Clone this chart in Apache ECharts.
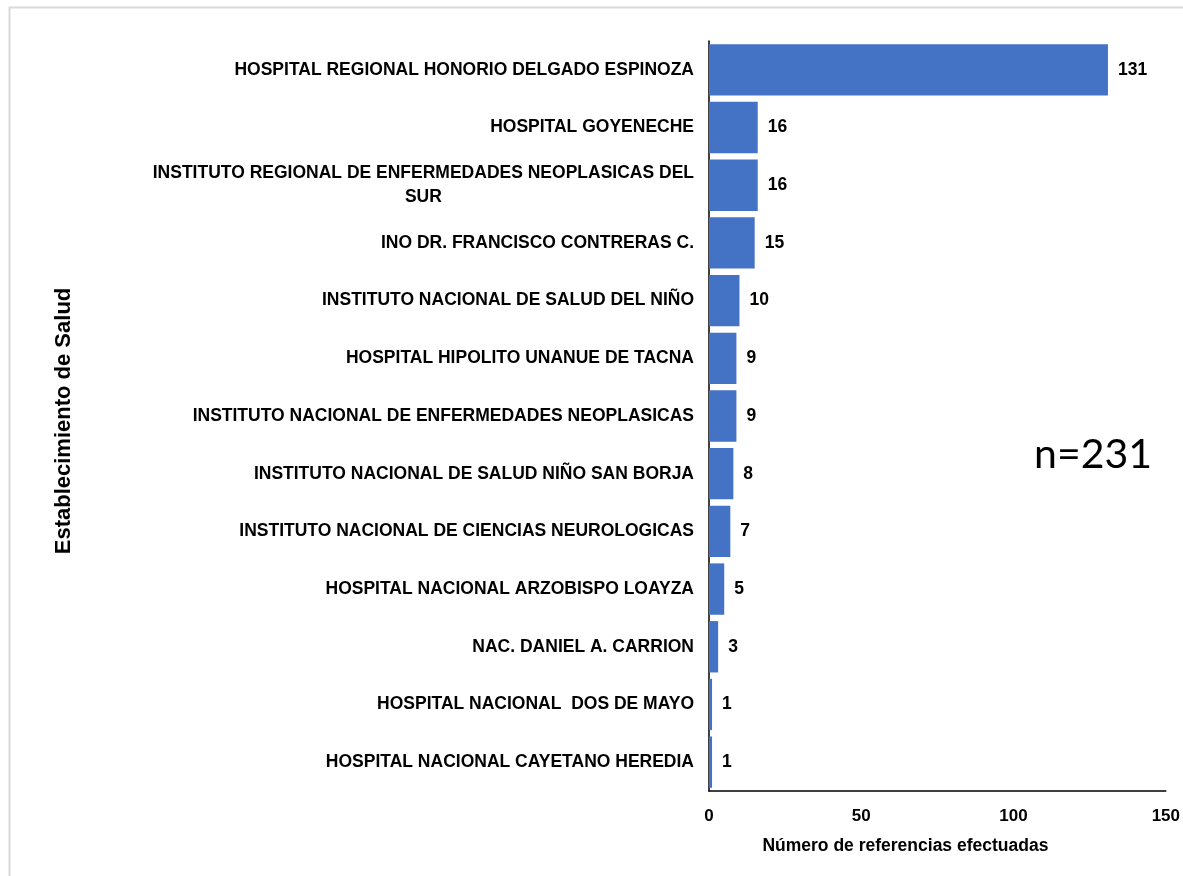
<!DOCTYPE html>
<html><head><meta charset="utf-8">
<script src="https://cdn.jsdelivr.net/npm/echarts@6/dist/echarts.min.js"></script>
<style>html,body{margin:0;padding:0;background:#fff}#c{width:1183px;height:876px}</style>
</head><body><div id="c"></div>
<script>
const categories = [
  'HOSPITAL REGIONAL HONORIO DELGADO ESPINOZA',
  'HOSPITAL GOYENECHE',
  'INSTITUTO REGIONAL DE ENFERMEDADES NEOPLASICAS DEL\nSUR',
  'INO DR. FRANCISCO CONTRERAS C.',
  'INSTITUTO NACIONAL DE SALUD DEL NIÑO',
  'HOSPITAL HIPOLITO UNANUE DE TACNA',
  'INSTITUTO NACIONAL DE ENFERMEDADES NEOPLASICAS',
  'INSTITUTO NACIONAL DE SALUD NIÑO SAN BORJA',
  'INSTITUTO NACIONAL DE CIENCIAS NEUROLOGICAS',
  'HOSPITAL NACIONAL ARZOBISPO LOAYZA',
  'NAC. DANIEL A. CARRION',
  'HOSPITAL NACIONAL  DOS DE MAYO',
  'HOSPITAL NACIONAL CAYETANO HEREDIA'
];
const values = [131, 16, 16, 15, 10, 9, 9, 8, 7, 5, 3, 1, 1];
const xTicks = [0, 50, 100, 150];
const xAxisName = 'Número de referencias efectuadas';
const yAxisName = 'Establecimiento de Salud';
const annotation = 'n=231';

const chart = echarts.init(document.getElementById('c'), null, {renderer: 'canvas'});
const font = 'Liberation Sans, Arial, sans-serif';
chart.setOption({
  animation: false,
  backgroundColor: '#ffffff',
  grid: {left: 709, right: 11, top: 41, bottom: 85, containLabel: false},
  xAxis: {
    type: 'value', min: xTicks[0], max: xTicks[xTicks.length - 1], interval: 50,
    name: xAxisName, nameLocation: 'middle', nameGap: 46,
    nameTextStyle: {fontFamily: font, fontWeight: 'bold', fontSize: 17.5, color: '#000', padding: [0, 64, 0, 0]},
    axisLine: {show: true, lineStyle: {color: '#000', width: 1.5}},
    axisTick: {show: false},
    splitLine: {show: false},
    axisLabel: {fontFamily: font, fontWeight: 'bold', fontSize: 17, color: '#000', margin: 17}
  },
  yAxis: {
    type: 'category', data: categories, inverse: true,
    name: yAxisName, nameLocation: 'middle', nameGap: 634, nameRotate: 90,
    nameTextStyle: {fontFamily: font, fontWeight: 'bold', fontSize: 22, color: '#000', padding: [0, 10, 0, 0]},
    axisLine: {show: true, lineStyle: {color: '#000', width: 1.5}},
    axisTick: {show: false},
    axisLabel: {
      fontFamily: font, fontWeight: 'bold', fontSize: 17.5, color: '#000', margin: 15,
      lineHeight: 24,
      formatter: function (v) {
        if (v.indexOf('\n') >= 0) {
          return v.split('\n').map(s => '{c|' + s + '}').join('\n');
        }
        return v;
      },
      rich: {c: {align: 'center', fontFamily: font, fontWeight: 'bold', fontSize: 17.5, color: '#000', lineHeight: 24}}
    }
  },
  series: [{
    type: 'bar', data: values, barWidth: '89%',
    itemStyle: {color: '#4472C4'},
    label: {show: true, position: 'right', distance: 10, fontFamily: font, fontWeight: 'bold', fontSize: 17.5, color: '#000'}
  }],
  graphic: [
    {type: 'rect', left: 7, top: 5, shape: {width: 1200, height: 900}, style: {fill: 'none', stroke: '#d9d9d9', lineWidth: 2}, silent: true},
    {type: 'text', left: 1034, top: 434, style: {text: annotation, font: '41px Lato, "Open Sans", sans-serif', fill: '#000'}}
  ]
});
</script></body></html>
